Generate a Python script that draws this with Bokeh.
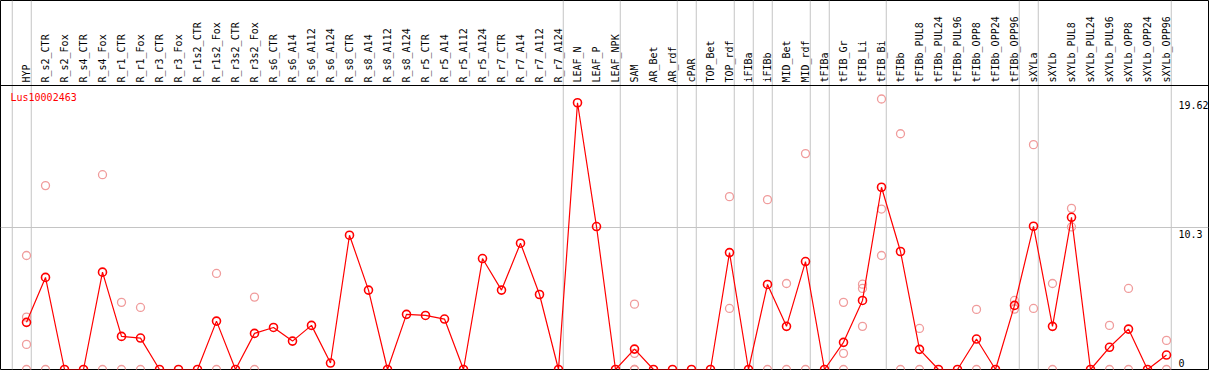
import math
from bokeh.plotting import figure
from bokeh.models import Range1d, Span, ColumnDataSource
from bokeh.core.properties import value
from bokeh.embed import file_html
from bokeh.resources import INLINE

gene_id = "Lus10002463"

categories = [
    "HYP", "R_s2_CTR", "R_s2_Fox", "R_s4_CTR", "R_s4_Fox", "R_r1_CTR", "R_r1_Fox",
    "R_r3_CTR", "R_r3_Fox", "R_r1s2_CTR", "R_r1s2_Fox", "R_r3s2_CTR", "R_r3s2_Fox",
    "R_s6_CTR", "R_s6_A14", "R_s6_A112", "R_s6_A124", "R_s8_CTR", "R_s8_A14",
    "R_s8_A112", "R_s8_A124", "R_r5_CTR", "R_r5_A14", "R_r5_A112", "R_r5_A124",
    "R_r7_CTR", "R_r7_A14", "R_r7_A112", "R_r7_A124", "LEAF_N", "LEAF_P", "LEAF_NPK",
    "SAM", "AR_Bet", "AR_rdf", "cPAR", "TOP_Bet", "TOP_rdf", "iFIBa", "iFIBb",
    "MID_Bet", "MID_rdf", "tFIBa", "tFIB_Gr", "tFIB_Li", "tFIB_Bi", "tFIBb",
    "tFIBb_PUL8", "tFIBb_PUL24", "tFIBb_PUL96", "tFIBb_OPP8", "tFIBb_OPP24",
    "tFIBb_OPP96", "sXYLa", "sXYLb", "sXYLb_PUL8", "sXYLb_PUL24", "sXYLb_PUL96",
    "sXYLb_OPP8", "sXYLb_OPP24", "sXYLb_OPP96",
]

mean_expression = [
    3.42, 6.68, 0, 0, 7.06, 2.40, 2.28,
    0, 0, 0, 3.51, 0, 2.62,
    3.05, 2.06, 3.20, 0.47, 9.74, 5.76,
    0, 4.00, 3.92, 3.66, 0, 8.05,
    5.76, 9.16, 5.44, 0, 19.35, 10.37, 0,
    1.48, 0, 0, 0, 0, 8.48, 0, 6.17,
    3.13, 7.83, 0, 1.97, 5.01, 13.22, 8.56,
    1.46, 0, 0, 2.21, 0,
    4.65, 10.39, 3.13, 11.04, 0, 1.61,
    2.93, 0, 1.05,
]

replicate_values = [
    [8.27, 3.80, 1.82, 0], [13.34, 0], [], [], [14.13, 0], [4.87, 0], [4.50, 0],
    [], [], [], [6.97, 0], [], [5.25, 0],
    [], [], [], [], [], [],
    [], [], [], [], [], [],
    [], [], [], [], [], [], [],
    [4.74, 1.17, 0, 0], [], [], [], [], [12.54, 4.43], [], [12.32, 0],
    [6.24, 0], [15.66, 0], [], [4.87, 1.17, 0], [6.19, 5.88, 3.13], [19.62, 11.64, 8.27], [17.10, 0],
    [2.98, 0], [], [], [4.36, 0], [],
    [5.01, 4.38], [16.31, 4.43], [6.24, 0], [11.69, 10.34], [], [3.20, 0],
    [5.88, 0], [], [2.11, 0],
]

# groups end after these categories (a separator line follows each)
group_ends = ["HYP", "R_r7_A124", "LEAF_NPK", "AR_rdf", "cPAR", "TOP_rdf", "iFIBa",
              "iFIBb", "MID_rdf", "tFIBa", "tFIB_Bi", "tFIBb_OPP96", "sXYLa", "sXYLb_OPP96"]

tick_values = [19.62, 10.3, 0]
tick_labels = ["19.62", "10.3", "0"]

FONT = value("DejaVu Sans Mono")
n = len(categories)
idx = list(range(n))

all_vals = [v for r in replicate_values for v in r] + mean_expression
y_data_top = max(all_vals) * 1.05

W, H = 1209, 370
FW, FH = W - 1, H - 1          # frame size (1px border room right/bottom)
step_px = 19.0
first_px = 26.0
header_px = 85
x_start = -first_px / step_px
x_end = x_start + FW / step_px
y_top = y_data_top * FH / (FH - header_px)

p = figure(width=W, height=H, x_range=Range1d(x_start, x_end), y_range=Range1d(0, y_top),
           output_backend="svg", toolbar_location=None,
           min_border_left=0, min_border_top=0, min_border_right=1, min_border_bottom=1,
           x_axis_location=None, y_axis_location=None)
p.grid.visible = False
p.outline_line_color = "black"
p.outline_line_width = 1
p.background_fill_color = "white"
p.border_fill_color = "white"

# vertical group separators (one before the first category too)
sep_positions = [-1] + [categories.index(c) for c in group_ends]
for s in sep_positions:
    p.add_layout(Span(location=s + 0.25, dimension="height", line_color="#c4c4c4",
                      line_width=1, level="underlay"))

# horizontal mid gridline and header separator
p.add_layout(Span(location=tick_values[1], dimension="width", line_color="#c4c4c4",
                  line_width=1, level="underlay"))
p.add_layout(Span(location=y_data_top, dimension="width", line_color="black",
                  line_width=1, level="underlay"))

# replicate points
rx = [i for i, r in enumerate(replicate_values) for _ in r]
ry = [v for r in replicate_values for v in r]
p.scatter(x=rx, y=ry, marker="circle", size=8, fill_color=None,
          line_color="#f09c9c", line_width=1.3)

# mean line
src = ColumnDataSource(dict(x=idx, y=mean_expression))
p.line(x="x", y="y", source=src, line_color="red", line_width=1.2)
p.scatter(x="x", y="y", source=src, marker="circle", size=8, fill_color=None,
          line_color="red", line_width=1.6)

# header labels
p.text(x=idx, y=[y_data_top] * n, text=categories, angle=math.pi / 2,
       text_align="left", text_baseline="middle", text_font=FONT,
       text_font_size="10px", text_color="black", y_offset=-3)

# gene label
p.text(x=[x_start], y=[y_data_top], text=[gene_id], x_offset=10, y_offset=6,
       text_align="left", text_baseline="top", text_font=FONT,
       text_font_size="10px", text_color="red")

# value labels on the right
p.text(x=[n - 1] * 2, y=tick_values[:2], text=tick_labels[:2], x_offset=12, y_offset=2,
       text_align="left", text_baseline="top", text_font=FONT,
       text_font_size="10px", text_color="black")
p.text(x=[n - 1], y=tick_values[2:], text=tick_labels[2:], x_offset=12, y_offset=-3,
       text_align="left", text_baseline="bottom", text_font=FONT,
       text_font_size="10px", text_color="black")

open("out.html", "w").write(file_html(p, INLINE))
